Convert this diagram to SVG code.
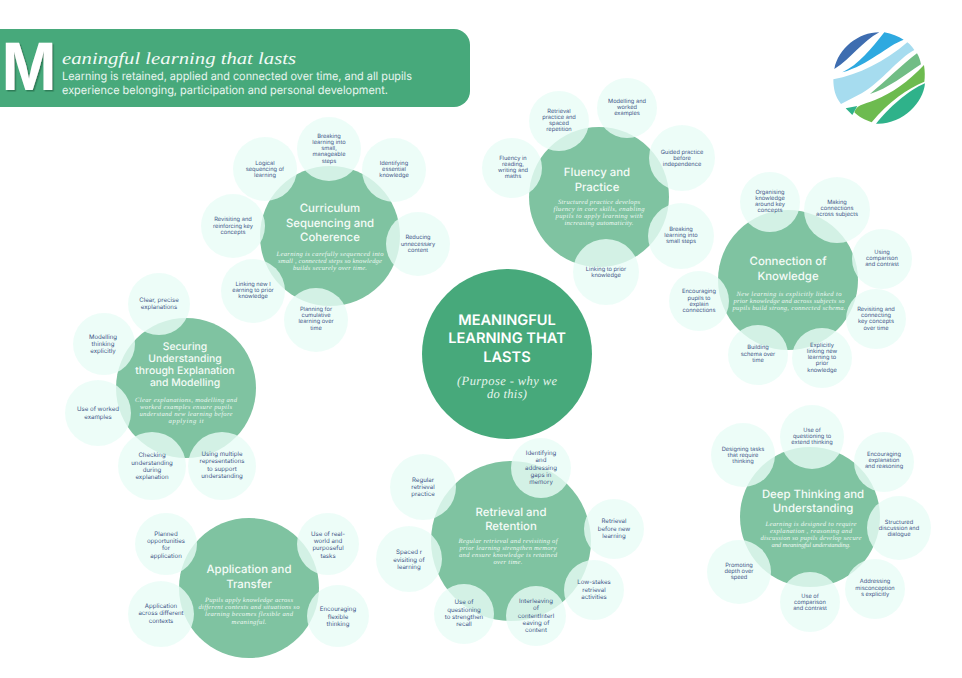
<svg xmlns="http://www.w3.org/2000/svg" width="962" height="678" viewBox="0 0 962 678">
<style>
text{text-anchor:middle;text-rendering:geometricPrecision}
.m{fill:#7fc3a1}
.s{fill:#e9fdf6;fill-opacity:.8}
.t{font:400 5.7px Inter,"Liberation Sans",sans-serif;fill:#3f5687}
.b{font:400 6.1px Inter,"Liberation Sans",sans-serif;fill:#3f5687}
.h{font:500 11.4px Inter,"Liberation Sans",sans-serif;fill:#f4fbf7}
.d{font:italic 6.6px "Liberation Serif",serif;fill:#eef9f3}
.c{font:600 14.6px Inter,"Liberation Sans",sans-serif;fill:#fff}
.p{font:italic 12.5px "Liberation Serif",serif;fill:#e6f5ed}
.l{font:400 11.5px Inter,"Liberation Sans",sans-serif;fill:#e9f6f0;text-anchor:start}
</style>
<defs><filter id="sh" x="-20%" y="-20%" width="140%" height="140%"><feDropShadow dx="1.5" dy="1.5" stdDeviation=".4" flood-color="#2f7d58"/></filter></defs>
<rect width="962" height="678" fill="#fff"/>
<g id="header">
<path d="M-5 29H454a16 16 0 0 1 16 16V91a16 16 0 0 1-16 16H-5Z" fill="#47a97b"/>
<text x="29" y="90" filter="url(#sh)" style="font:700 65px Inter,'Liberation Sans',sans-serif;fill:#fff" textLength="54" lengthAdjust="spacingAndGlyphs">M</text>
<text x="62" y="64" style="font:italic 17px 'Liberation Serif',serif;fill:#f2faf6;text-anchor:start" textLength="234" lengthAdjust="spacingAndGlyphs">eaningful learning that lasts</text>
<text class="l" x="62" y="80" textLength="350" lengthAdjust="spacingAndGlyphs">Learning is retained, applied and connected over time, and all pupils</text>
<text class="l" x="62" y="94" textLength="326" lengthAdjust="spacingAndGlyphs">experience belonging, participation and personal development.</text>
</g>
<g id="logo" transform="translate(825 25) scale(.3333)">
<path d="M28 132C40 70 100 22 163 22C110 50 80 100 28 132Z" fill="#3e6db0"/>
<path d="M52 142C100 120 140 70 178 22C200 25 220 35 236 44C190 60 130 120 52 142Z" fill="#2ea9e0"/>
<path d="M25 163C100 150 180 110 247 52C255 58 262 66 268 75C220 100 170 170 110 205L48 237C30 215 25 190 25 163Z" fill="#a6dcef"/>
<path d="M135 207C180 170 230 120 276 85C282 95 286 105 288 118C240 150 190 190 135 207Z" fill="#71bd85"/>
<path d="M88 262C95 240 110 240 150 225C200 205 250 170 297 120C300 140 300 155 298 170C250 190 190 230 140 292C120 285 100 275 88 262Z" fill="#6dbb4f"/>
<path d="M62 250L97 243L82 270Z" fill="#2fb28a"/>
<path d="M153 296C190 250 250 195 300 175C295 235 230 300 153 296Z" fill="#2fb28a"/>
</g>
<g id="connectors"></g>
<g id="centre">
<circle cx="507" cy="354" r="85" fill="#47a97b"/>
<text class="c" x="507" y="325">MEANINGFUL</text>
<text class="c" x="507" y="343">LEARNING THAT</text>
<text class="c" x="507" y="361.5">LASTS</text>
<text class="p" x="507" y="385" textLength="100">(Purpose - why we</text>
<text class="p" x="507" y="398" textLength="40">do this)</text>
</g>
<g id="curriculum">
<circle class="m" cx="330" cy="236" r="70"/>
<text class="h" x="330" y="212">Curriculum</text>
<text class="h" x="330" y="226.5">Sequencing and</text>
<text class="h" x="330" y="241">Coherence</text>
<text class="d" x="330" y="255.5" textLength="107">Learning is carefully sequenced into</text>
<text class="d" x="330" y="262.7" textLength="104">small , connected steps so knowledge</text>
<text class="d" x="330" y="269.7" textLength="74">builds securely over time.</text>
</g>
<g id="cur-1"><circle class="s" cx="329" cy="149" r="32"/><text class="t" y="137.7"><tspan x="329">Breaking</tspan><tspan x="329" dy="6.2">learning into</tspan><tspan x="329" dy="6.2">small,</tspan><tspan x="329" dy="6.2">manageable</tspan><tspan x="329" dy="6.2">steps</tspan></text></g>
<g id="cur-2"><circle class="s" cx="394" cy="170" r="32"/><text class="t" y="164.7"><tspan x="394">Identifying</tspan><tspan x="394" dy="6.2">essential</tspan><tspan x="394" dy="6.2">knowledge</tspan></text></g>
<g id="cur-3"><circle class="s" cx="418" cy="244" r="32"/><text class="t" y="239.3"><tspan x="418">Reducing</tspan><tspan x="418" dy="6.2">unnecessary</tspan><tspan x="418" dy="6.2">content</tspan></text></g>
<g id="cur-4"><circle class="s" cx="316" cy="320" r="32"/><text class="t" y="311"><tspan x="316">Planning for</tspan><tspan x="316" dy="6.2">cumulative</tspan><tspan x="316" dy="6.2">learning over</tspan><tspan x="316" dy="6.2">time</tspan></text></g>
<g id="cur-5"><circle class="s" cx="253" cy="291" r="32"/><text class="t" y="285.7"><tspan x="253">Linking new l</tspan><tspan x="253" dy="6.2">earning to prior</tspan><tspan x="253" dy="6.2">knowledge</tspan></text></g>
<g id="cur-6"><circle class="s" cx="233" cy="226" r="32"/><text class="t" y="221.3"><tspan x="233">Revisiting and</tspan><tspan x="233" dy="6.2">reinforcing key</tspan><tspan x="233" dy="6.2">concepts</tspan></text></g>
<g id="cur-7"><circle class="s" cx="265" cy="169" r="32"/><text class="t" y="164.7"><tspan x="265">Logical</tspan><tspan x="265" dy="6.2">sequencing of</tspan><tspan x="265" dy="6.2">learning</tspan></text></g>
<g id="fluency">
<circle class="m" cx="599" cy="197" r="70"/>
<text class="h" x="597" y="176">Fluency and</text>
<text class="h" x="597" y="190.5">Practice</text>
<text class="d" x="599" y="203.7" textLength="82">Structured practice develops</text>
<text class="d" x="599" y="210.7" textLength="91">fluency in core skills, enabling</text>
<text class="d" x="599" y="218" textLength="87">pupils to apply learning with</text>
<text class="d" x="599" y="225" textLength="69">increasing automaticity.</text>
</g>
<g id="flu-1"><circle class="s" cx="627" cy="108" r="30"/><text class="t" y="103"><tspan x="627">Modelling and</tspan><tspan x="627" dy="6.2">worked</tspan><tspan x="627" dy="6.2">examples</tspan></text></g>
<g id="flu-2"><circle class="s" cx="559" cy="121" r="30"/><text class="t" y="112.7"><tspan x="559">Retrieval</tspan><tspan x="559" dy="6.2">practice and</tspan><tspan x="559" dy="6.2">spaced</tspan><tspan x="559" dy="6.2">repetition</tspan></text></g>
<g id="flu-3"><circle class="s" cx="512" cy="168" r="30"/><text class="t" y="159.7"><tspan x="513">Fluency in</tspan><tspan x="513" dy="6.2">reading,</tspan><tspan x="513" dy="6.2">writing and</tspan><tspan x="513" dy="6.2">maths</tspan></text></g>
<g id="flu-4"><circle class="s" cx="682" cy="158" r="33"/><text class="t" y="153.7"><tspan x="682">Guided practice</tspan><tspan x="682" dy="6.2">before</tspan><tspan x="682" dy="6.2">independence</tspan></text></g>
<g id="flu-5"><circle class="s" cx="681" cy="236" r="33"/><text class="t" y="231"><tspan x="681">Breaking</tspan><tspan x="681" dy="6.2">learning into</tspan><tspan x="681" dy="6.2">small steps</tspan></text></g>
<g id="flu-6"><circle class="s" cx="606" cy="272" r="33"/><text class="t" y="270.7"><tspan x="606">Linking to prior</tspan><tspan x="606" dy="6.2">knowledge</tspan></text></g>
<g id="connection">
<circle class="m" cx="788" cy="280" r="70"/>
<text class="h" x="788" y="265">Connection of</text>
<text class="h" x="788" y="279.5">Knowledge</text>
<text class="d" x="789" y="296" textLength="105">New learning is explicitly linked to</text>
<text class="d" x="789" y="303.3" textLength="111">prior knowledge and across subjects so</text>
<text class="d" x="789" y="310.3" textLength="113">pupils build strong, connected schema.</text>
</g>
<g id="con-1"><circle class="s" cx="770" cy="202" r="30"/><text class="t" y="193.7"><tspan x="770">Organising</tspan><tspan x="770" dy="6.2">knowledge</tspan><tspan x="770" dy="6.2">around key</tspan><tspan x="770" dy="6.2">concepts</tspan></text></g>
<g id="con-2"><circle class="s" cx="837" cy="210" r="33"/><text class="t" y="204"><tspan x="837">Making</tspan><tspan x="837" dy="6.2">connections</tspan><tspan x="837" dy="6.2">across subjects</tspan></text></g>
<g id="con-3"><circle class="s" cx="882" cy="259" r="30"/><text class="t" y="253.7"><tspan x="882">Using</tspan><tspan x="882" dy="6.2">comparison</tspan><tspan x="882" dy="6.2">and contrast</tspan></text></g>
<g id="con-4"><circle class="s" cx="876" cy="319" r="30"/><text class="t" y="311"><tspan x="876">Revisiting and</tspan><tspan x="876" dy="6.2">connecting</tspan><tspan x="876" dy="6.2">key concepts</tspan><tspan x="876" dy="6.2">over time</tspan></text></g>
<g id="con-5"><circle class="s" cx="822" cy="358" r="30"/><text class="t" y="346.7"><tspan x="822">Explicitly</tspan><tspan x="822" dy="6.2">linking new</tspan><tspan x="822" dy="6.2">learning to</tspan><tspan x="822" dy="6.2">prior</tspan><tspan x="822" dy="6.2">knowledge</tspan></text></g>
<g id="con-6"><circle class="s" cx="758" cy="355" r="30"/><text class="t" y="349.3"><tspan x="758">Building</tspan><tspan x="758" dy="6.2">schema over</tspan><tspan x="758" dy="6.2">time</tspan></text></g>
<g id="con-7"><circle class="s" cx="699" cy="301" r="30"/><text class="t" y="293.3"><tspan x="699">Encouraging</tspan><tspan x="699" dy="6.2">pupils to</tspan><tspan x="699" dy="6.2">explain</tspan><tspan x="699" dy="6.2">connections</tspan></text></g>
<g id="securing">
<circle class="m" cx="186" cy="388" r="70"/>
<text class="h" x="185" y="350" style="font-size:10.4px">Securing</text>
<text class="h" x="185" y="361.7" style="font-size:10.4px">Understanding</text>
<text class="h" x="185" y="373.7" style="font-size:10.4px">through Explanation</text>
<text class="h" x="185" y="385.7" style="font-size:10.4px">and Modelling</text>
<text class="d" x="186" y="401.7" textLength="102">Clear explanations, modelling and</text>
<text class="d" x="186" y="409" textLength="92">worked examples ensure pupils</text>
<text class="d" x="186" y="416.3" textLength="93">understand new learning before</text>
<text class="d" x="186" y="423.3" textLength="35">applying it</text>
</g>
<g id="sec-1"><circle class="s" cx="159" cy="304" r="31"/><text class="b" y="302"><tspan x="159">Clear, precise</tspan><tspan x="159" dy="7.3">explanations</tspan></text></g>
<g id="sec-2"><circle class="s" cx="104" cy="344" r="31"/><text class="b" y="338.6"><tspan x="103">Modelling</tspan><tspan x="103" dy="7.3">thinking</tspan><tspan x="103" dy="7.3">explicitly</tspan></text></g>
<g id="sec-3"><circle class="s" cx="98" cy="413" r="33"/><text class="b" y="411.3"><tspan x="98">Use of worked</tspan><tspan x="98" dy="7.3">examples</tspan></text></g>
<g id="sec-4"><circle class="s" cx="152" cy="466" r="34"/><text class="b" y="457.3"><tspan x="152">Checking</tspan><tspan x="152" dy="7.3">understanding</tspan><tspan x="152" dy="7.3">during</tspan><tspan x="152" dy="7.3">explanation</tspan></text></g>
<g id="sec-5"><circle class="s" cx="222" cy="466" r="34"/><text class="b" y="456"><tspan x="222">Using multiple</tspan><tspan x="222" dy="7.3">representations</tspan><tspan x="222" dy="7.3">to support</tspan><tspan x="222" dy="7.3">understanding</tspan></text></g>
<g id="deep">
<circle class="m" cx="810" cy="517" r="70"/>
<text class="h" x="813" y="497.5">Deep Thinking and</text>
<text class="h" x="813" y="512">Understanding</text>
<text class="d" x="811" y="525.7" textLength="91">Learning is designed to require</text>
<text class="d" x="811" y="532.7" textLength="82">explanation , reasoning and</text>
<text class="d" x="811" y="539.7" textLength="101">discussion so pupils develop secure</text>
<text class="d" x="811" y="547" textLength="79">and meaningful understanding.</text>
</g>
<g id="dee-1"><circle class="s" cx="812" cy="437" r="32"/><text class="t" y="432"><tspan x="812">Use of</tspan><tspan x="812" dy="6.2">questioning to</tspan><tspan x="812" dy="6.2">extend thinking</tspan></text></g>
<g id="dee-2"><circle class="s" cx="884" cy="462" r="30"/><text class="t" y="455.7"><tspan x="884">Encouraging</tspan><tspan x="884" dy="6.2">explanation</tspan><tspan x="884" dy="6.2">and reasoning</tspan></text></g>
<g id="dee-3"><circle class="s" cx="899" cy="528" r="32"/><text class="t" y="524"><tspan x="899">Structured</tspan><tspan x="899" dy="6.2">discussion and</tspan><tspan x="899" dy="6.2">dialogue</tspan></text></g>
<g id="dee-4"><circle class="s" cx="875" cy="589" r="30"/><text class="t" y="583.3"><tspan x="875">Addressing</tspan><tspan x="875" dy="6.2">misconception</tspan><tspan x="875" dy="6.2">s explicitly</tspan></text></g>
<g id="dee-5"><circle class="s" cx="810" cy="602" r="30"/><text class="t" y="598"><tspan x="810">Use of</tspan><tspan x="810" dy="6.2">comparison</tspan><tspan x="810" dy="6.2">and contrast</tspan></text></g>
<g id="dee-6"><circle class="s" cx="739" cy="572" r="32"/><text class="t" y="567"><tspan x="739">Promoting</tspan><tspan x="739" dy="6.2">depth over</tspan><tspan x="739" dy="6.2">speed</tspan></text></g>
<g id="dee-7"><circle class="s" cx="743" cy="455" r="32"/><text class="t" y="450.7"><tspan x="743">Designing tasks</tspan><tspan x="743" dy="6.2">that require</tspan><tspan x="743" dy="6.2">thinking</tspan></text></g>
<g id="retrieval">
<circle class="m" cx="511" cy="541" r="80"/>
<text class="h" x="511" y="515.5">Retrieval and</text>
<text class="h" x="511" y="530">Retention</text>
<text class="d" x="508" y="542.7" textLength="99">Regular retrieval and revisiting of</text>
<text class="d" x="508" y="550" textLength="97">prior learning strengthen memory</text>
<text class="d" x="508" y="557.3" textLength="98">and ensure knowledge is retained</text>
<text class="d" x="508" y="564.3" textLength="29">over time.</text>
</g>
<g id="ret-1"><circle class="s" cx="541" cy="468" r="30"/><text class="b" y="455"><tspan x="541">Identifying</tspan><tspan x="541" dy="7.3">and</tspan><tspan x="541" dy="7.3">addressing</tspan><tspan x="541" dy="7.3">gaps in</tspan><tspan x="541" dy="7.3">memory</tspan></text></g>
<g id="ret-2"><circle class="s" cx="614" cy="529" r="30"/><text class="b" y="523.3"><tspan x="614">Retrieval</tspan><tspan x="614" dy="7.3">before new</tspan><tspan x="614" dy="7.3">learning</tspan></text></g>
<g id="ret-3"><circle class="s" cx="594" cy="590" r="30"/><text class="b" y="584.3"><tspan x="594">Low-stakes</tspan><tspan x="594" dy="7.3">retrieval</tspan><tspan x="594" dy="7.3">activities</tspan></text></g>
<g id="ret-4"><circle class="s" cx="536" cy="616" r="30"/><text class="b" y="603"><tspan x="536">Interleaving</tspan><tspan x="536" dy="7.3">of</tspan><tspan x="536" dy="7.3">contentInterl</tspan><tspan x="536" dy="7.3">eaving of</tspan><tspan x="536" dy="7.3">content</tspan></text></g>
<g id="ret-5"><circle class="s" cx="464" cy="614" r="30"/><text class="b" y="604.3"><tspan x="464">Use of</tspan><tspan x="464" dy="7.3">questioning</tspan><tspan x="464" dy="7.3">to strengthen</tspan><tspan x="464" dy="7.3">recall</tspan></text></g>
<g id="ret-6"><circle class="s" cx="409" cy="559" r="33"/><text class="b" y="554.3"><tspan x="409">Spaced r</tspan><tspan x="409" dy="7.3">evisiting of</tspan><tspan x="409" dy="7.3">learning</tspan></text></g>
<g id="ret-7"><circle class="s" cx="423" cy="487" r="33"/><text class="b" y="481.6"><tspan x="423">Regular</tspan><tspan x="423" dy="7.3">retrieval</tspan><tspan x="423" dy="7.3">practice</tspan></text></g>
<g id="application">
<circle class="m" cx="249" cy="588" r="70"/>
<text class="h" x="249" y="573">Application and</text>
<text class="h" x="249" y="587.5">Transfer</text>
<text class="d" x="249" y="602" textLength="88">Pupils apply knowledge across</text>
<text class="d" x="249" y="609.3" textLength="101">different contexts and situations so</text>
<text class="d" x="249" y="616.3" textLength="88">learning becomes flexible and</text>
<text class="d" x="249" y="623.7" textLength="35">meaningful.</text>
</g>
<g id="app-1"><circle class="s" cx="166" cy="544" r="31"/><text class="b" y="535.6"><tspan x="166">Planned</tspan><tspan x="166" dy="7.3">opportunities</tspan><tspan x="166" dy="7.3">for</tspan><tspan x="166" dy="7.3">application</tspan></text></g>
<g id="app-2"><circle class="s" cx="328" cy="544" r="31"/><text class="b" y="535.6"><tspan x="328">Use of real-</tspan><tspan x="328" dy="7.3">world and</tspan><tspan x="328" dy="7.3">purposeful</tspan><tspan x="328" dy="7.3">tasks</tspan></text></g>
<g id="app-3"><circle class="s" cx="338" cy="616" r="31"/><text class="b" y="611.3"><tspan x="338">Encouraging</tspan><tspan x="338" dy="7.3">flexible</tspan><tspan x="338" dy="7.3">thinking</tspan></text></g>
<g id="app-4"><circle class="s" cx="161" cy="614" r="33"/><text class="b" y="608"><tspan x="161">Application</tspan><tspan x="161" dy="7.3">across different</tspan><tspan x="161" dy="7.3">contexts</tspan></text></g>
</svg>
